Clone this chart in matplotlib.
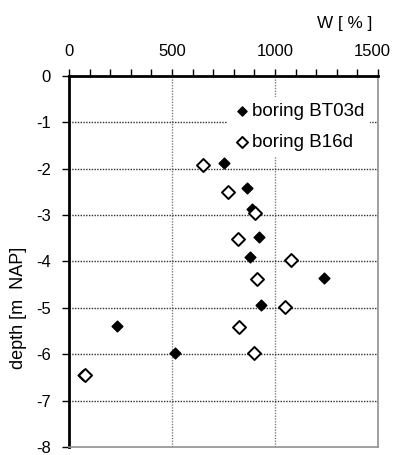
import matplotlib
matplotlib.use("Agg")
import matplotlib.pyplot as plt
from matplotlib.ticker import MultipleLocator
from matplotlib.transforms import ScaledTranslation

plt.rcParams['font.family'] = ['Liberation Sans', 'DejaVu Sans']
plt.rcParams['axes.unicode_minus'] = False

# Water content W [%] versus depth [m NAP] for two borings
bt03d_w = [754, 862, 890, 922, 880, 1238, 930, 231, 515, 66]
bt03d_depth = [-1.88, -2.42, -2.87, -3.48, -3.90, -4.35, -4.93, -5.40, -5.97, -6.44]

b16d_w = [650, 770, 903, 822, 1076, 911, 1047, 827, 897, 76]
b16d_depth = [-1.92, -2.50, -2.96, -3.51, -3.96, -4.38, -4.99, -5.41, -5.97, -6.45]

x_ticks = [0, 500, 1000, 1500]
y_ticks = [0, -1, -2, -3, -4, -5, -6, -7, -8]

fig = plt.figure(figsize=(4.01, 4.55), dpi=100)
ax = fig.add_axes([0.172, 0.0176, 0.7706, 0.8154])

ax.scatter(bt03d_w, bt03d_depth, marker='D', s=30, color='black',
           zorder=3, label='boring BT03d')
ax.scatter(b16d_w, b16d_depth, marker='D', s=44, facecolor='white',
           edgecolor='black', linewidth=1.4, zorder=3, label='boring B16d')

ax.set_xlim(0, 1500)
ax.set_ylim(-8, 0)
ax.set_xticks(x_ticks)
ax.set_yticks(y_ticks)
ax.xaxis.set_minor_locator(MultipleLocator(100))
ax.xaxis.tick_top()
ax.tick_params(axis='x', which='both', top=True, bottom=False, direction='out',
               length=5, width=1, labelsize=12, pad=7, colors='black')
ax.tick_params(axis='y', which='major', direction='out', length=5, width=1,
               labelsize=12, pad=8)

# keep the rightmost top label inside the figure edge
fig.canvas.draw()
last_label = ax.get_xticklabels()[-1]
last_label.set_transform(last_label.get_transform() +
                         ScaledTranslation(-6 / 100, 0, fig.dpi_scale_trans))

for v in x_ticks[1:3]:
    ax.axvline(v, color='#808080', linestyle=(0, (1, 1)), linewidth=1, zorder=1)
for v in y_ticks[1:-1]:
    ax.axhline(v, color='#303030', linestyle=(0, (1, 1)), linewidth=1, zorder=1)

ax.spines['top'].set_linewidth(2)
ax.spines['left'].set_linewidth(2)
ax.spines['right'].set_color('#909090')
ax.spines['bottom'].set_color('#909090')
ax.spines['right'].set_linewidth(1.2)
ax.spines['bottom'].set_linewidth(1.2)

fig.text(0.047, 0.323, 'depth [m  NAP]', fontsize=13, rotation=90,
         ha='center', va='center')
fig.text(0.859, 0.949, 'W [ % ]', fontsize=12.3, ha='center', va='center')

leg = ax.legend(loc='upper left', bbox_to_anchor=(0.513, 0.944), frameon=True,
                fontsize=13.5, handletextpad=0.0, handlelength=1.0,
                borderpad=0.3, labelspacing=0.76, markerscale=0.85,
                borderaxespad=0.0)
leg.get_frame().set_edgecolor('none')
leg.get_frame().set_facecolor('white')
leg.get_frame().set_alpha(1.0)
leg.set_zorder(2)

fig.savefig('out.png', dpi=100)
